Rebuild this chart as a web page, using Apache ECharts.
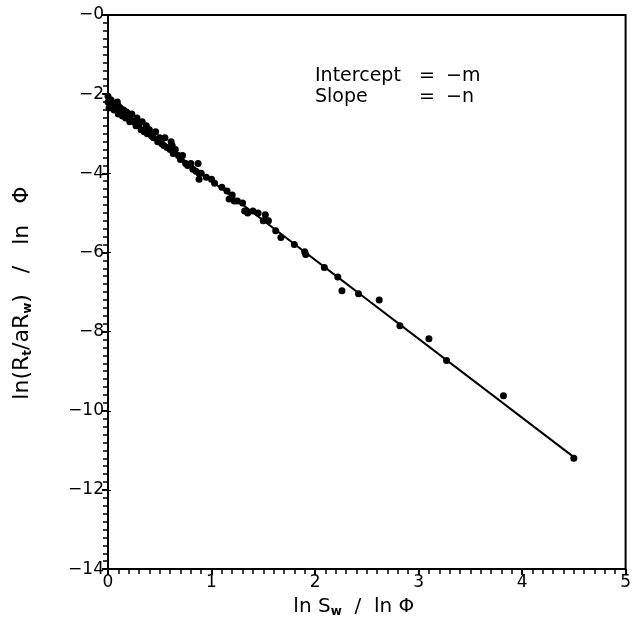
<!DOCTYPE html>
<html><head><meta charset="utf-8">
<script src="https://cdn.jsdelivr.net/npm/echarts@6/dist/echarts.min.js"></script>
<style>html,body{margin:0;padding:0;background:#fff}#c{width:634px;height:623px}</style>
</head><body><div id="c"></div>
<script>
// measured points: x = ln Sw / ln Phi, y = ln(Rt/aRw) / ln Phi
const pointX = [0.0,0.0,0.01,0.02,0.03,0.05,0.06,0.08,0.09,0.10,0.10,0.12,0.14,0.15,0.17,0.18,0.20,0.21,0.22,0.23,0.25,0.27,0.28,0.30,0.32,0.33,0.35,0.37,0.38,0.40,0.42,0.44,0.46,0.48,0.50,0.52,0.54,0.55,0.57,0.60,0.61,0.62,0.63,0.65,0.68,0.70,0.72,0.75,0.77,0.80,0.82,0.85,0.87,0.88,0.88,0.90,0.95,1.00,1.03,1.10,1.15,1.17,1.20,1.22,1.25,1.30,1.32,1.35,1.40,1.45,1.50,1.52,1.55,1.62,1.67,1.80,1.90,1.91,2.09,2.22,2.26,2.42,2.62,2.82,3.10,3.27,3.82,4.50];
const pointY = [-2.05,-2.2,-2.35,-2.3,-2.15,-2.25,-2.4,-2.3,-2.2,-2.3,-2.5,-2.35,-2.55,-2.4,-2.6,-2.45,-2.55,-2.7,-2.65,-2.5,-2.7,-2.8,-2.6,-2.75,-2.9,-2.7,-2.95,-2.8,-3.0,-2.9,-3.05,-3.1,-2.95,-3.2,-3.1,-3.25,-3.3,-3.1,-3.35,-3.4,-3.2,-3.3,-3.5,-3.4,-3.55,-3.65,-3.55,-3.75,-3.8,-3.75,-3.9,-3.95,-3.75,-4.0,-4.15,-4.0,-4.1,-4.15,-4.25,-4.35,-4.45,-4.65,-4.55,-4.7,-4.7,-4.75,-4.95,-5.0,-4.95,-5.0,-5.2,-5.05,-5.2,-5.45,-5.62,-5.8,-5.98,-6.05,-6.38,-6.62,-6.97,-7.04,-7.2,-7.85,-8.18,-8.73,-9.62,-11.2];
// fitted line end points
const lineX = [0, 4.5];
const lineY = [-2.2, -11.17];
const xTicks = ['0','1','2','3','4','5'];
const yTicks = ['−0','−2','−4','−6','−8','−10','−12','−14'];
const noteLines = [['Intercept','=','−m'],['Slope','=','−n']];

const font = '"DejaVu Sans", "Liberation Sans", sans-serif';
const chart = echarts.init(document.getElementById('c'), null, {renderer:'canvas'});
const subStyle = {fontSize:12, fontFamily:font, color:'#000', verticalAlign:'bottom', lineHeight:14, fontWeight:'bold'};
const axisBase = {
  axisLine:{show:true, onZero:false, lineStyle:{color:'#000', width:2}},
  axisTick:{show:true, inside:false, length:6, lineStyle:{color:'#000', width:2}},
  minorTick:{show:true, splitNumber:10, length:5, lineStyle:{color:'#000', width:1.5}},
  splitLine:{show:false},
  axisLabel:{color:'#000', fontSize:17, fontFamily:font}
};
chart.setOption({
  animation:false,
  backgroundColor:'#fff',
  grid:{left:108, right:4, top:15, bottom:46, show:true, borderColor:'#000', borderWidth:2},
  xAxis:[Object.assign({}, axisBase, {
    type:'value', min:0, max:5, interval:1, position:'bottom',
    axisLabel:Object.assign({}, axisBase.axisLabel, {margin:5, formatter:(v)=>xTicks[Math.round(v)]}),
    name:'ln S{s|w}  /  ln Φ', nameLocation:'middle', nameGap:19,
    nameTextStyle:{color:'#000', fontSize:20, fontFamily:font, lineHeight:22, padding:[0,26,0,0], rich:{s:subStyle}}
  })],
  yAxis:[Object.assign({}, axisBase, {
    type:'value', min:-14, max:0, interval:2, position:'left',
    axisLabel:Object.assign({}, axisBase.axisLabel, {margin:4, formatter:(v)=>yTicks[Math.round(-v/2)]}),
    name:'ln(R{s|t}/aR{s|w})   /   ln   Φ', nameLocation:'middle', nameGap:74, nameRotate:90,
    nameTextStyle:{color:'#000', fontSize:22, fontFamily:font, lineHeight:24, padding:[0,2,0,0], rich:{s:subStyle}}
  }),
  {type:'value', min:-14, max:0, interval:2, position:'right',
    axisLine:{show:true, lineStyle:{color:'#000', width:2}},
    axisTick:{show:true, length:3, lineStyle:{color:'#000', width:1}},
    minorTick:{show:false}, splitLine:{show:false}, axisLabel:{show:false}}],
  graphic: noteLines.flatMap((row, i) => [
    {type:'text', left:315, top:67 + i*21, style:{text:row[0], fontSize:19, fontFamily:font, fill:'#000'}},
    {type:'text', left:419, top:67 + i*21, style:{text:row[1], fontSize:19, fontFamily:font, fill:'#000'}},
    {type:'text', left:446, top:67 + i*21, style:{text:row[2], fontSize:19, fontFamily:font, fill:'#000'}}
  ]),
  series:[
    {type:'line', data:lineX.map((x,i)=>[x, lineY[i]]), showSymbol:false, symbol:'none',
     lineStyle:{color:'#000', width:2}, z:2},
    {type:'scatter', data:pointX.map((x,i)=>[x, pointY[i]]), symbol:'circle', symbolSize:7,
     itemStyle:{color:'#000', opacity:1}, z:3}
  ]
});
</script></body></html>
